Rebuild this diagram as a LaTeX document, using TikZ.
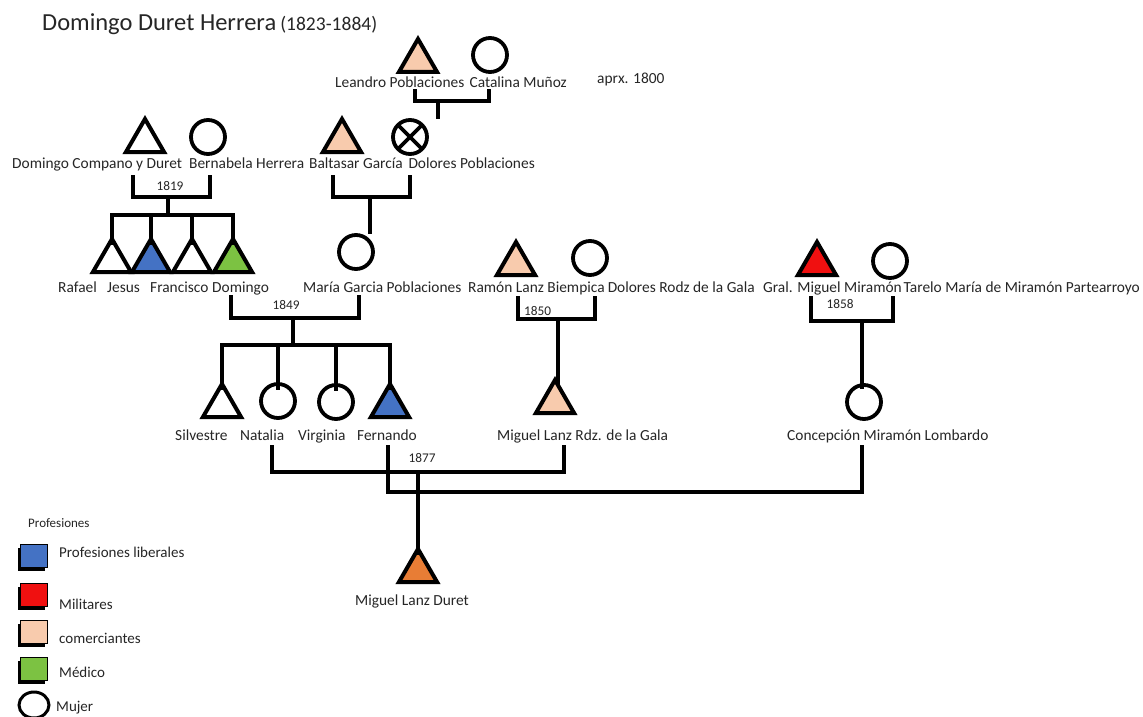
\documentclass[tikz,border=0pt]{standalone}
\usepackage{fontspec}
\setmainfont{Carlito}
\usetikzlibrary{shapes.geometric, shadows}
\definecolor{liberal}{HTML}{4472C4}
\definecolor{militar}{HTML}{F01010}
\definecolor{comercio}{HTML}{F8CBAD}
\definecolor{medico}{HTML}{7CC242}
\definecolor{nieto}{HTML}{E87D35}
\definecolor{ink}{HTML}{262626}
\tikzset{
  man/.style={regular polygon, regular polygon sides=3, draw=black, line width=4pt,
    minimum size=44pt, inner sep=0pt, outer sep=0pt, fill=white},
  woman/.style={circle, draw=black, line width=3.8pt, minimum size=34pt,
    inner sep=0pt, outer sep=0pt, fill=white},
  personlbl/.style={font=\fontsize{15.4}{17}\selectfont, text=ink, inner sep=0pt, anchor=base west},
  yearlbl/.style={font=\fontsize{13.3}{15}\selectfont, text=ink, inner sep=0pt},
  legtext/.style={font=\fontsize{15}{17}\selectfont, text=ink, inner sep=0pt, anchor=base west},
  swatch/.style={draw=black, line width=1pt, minimum width=27pt, minimum height=23pt, inner sep=0pt,
    drop shadow={shadow xshift=-3pt, shadow yshift=-3pt, fill=black, opacity=1}},
  link/.style={line width=4pt, line cap=rect, line join=miter}
}
\begin{document}
\begin{tikzpicture}[x=1pt, y=-1pt]
\useasboundingbox (0,0) rectangle (1143,717);
\fill[white] (0,0) rectangle (1143,717);

% title
\node[anchor=base west, inner sep=0pt, text=ink] (title) at (42,31)
  {\fontsize{24.5}{28}\selectfont Domingo Duret Herrera\,\fontsize{19.5}{22}\selectfont(1823-1884)};

% ---------- generation 1 ----------
\node[man, fill=comercio] (leandro) at (418,61) {};
\node[woman] (catalina) at (490,55) {};
\node[personlbl] (leandroL) at (335,88) {Leandro Poblaciones};
\node[personlbl, anchor=base east] (catalinaL) at (567,88) {Catalina Muñoz};
\node[personlbl] (aprox) at (597,84) {aprx. 1800};

% ---------- generation 2 ----------
\node[man] (dcompano) at (145,141) {};
\node[woman] (bernabela) at (208,137) {};
\node[man, fill=comercio] (baltasar) at (342,141) {};
\node[woman] (doloresp) at (410,137) {};
\draw[line width=3.6pt] (doloresp.north west) -- (doloresp.south east)
                        (doloresp.north east) -- (doloresp.south west);
\node[personlbl] (dcompanoL) at (12,168) {Domingo Compano y Duret};
\node[personlbl] (bernabelaL) at (189,168) {Bernabela Herrera};
\node[personlbl] (baltasarL) at (309,168) {Baltasar García};
\node[personlbl, anchor=base east] (dolorespL) at (535,168) {Dolores Poblaciones};

% ---------- generation 3 ----------
\node[man] (rafael) at (112,261) {};
\node[man, fill=liberal] (jesus) at (151,261) {};
\node[man] (francisco) at (192,261) {};
\node[man, fill=medico] (domingo) at (233,261) {};
\node[woman] (maria) at (356,252) {};
\node[man, fill=comercio] (ramon) at (516,264) {};
\node[woman] (doloresr) at (590,258) {};
\node[man, fill=militar] (miramon) at (817,264) {};
\node[woman] (tarelo) at (890,261) {};
\node[personlbl] (rafaelL) at (58,292) {Rafael};
\node[personlbl] (jesusL) at (107,292) {Jesus};
\node[personlbl] (franciscoL) at (150,292) {Francisco};
\node[personlbl] (domingoL) at (212,292) {Domingo};
\node[personlbl] (mariaL) at (303,292) {María Garcia Poblaciones};
\node[personlbl] (ramonL) at (468,292) {Ramón Lanz Biempica};
\node[personlbl, anchor=base east] (dolorersL) at (755,292) {Dolores Rodz de la Gala};
\node[personlbl] (miramonL) at (763,292) {Gral. Miguel Miramón};
\node[personlbl, anchor=base east] (tareloL) at (1140,292) {Tarelo María de Miramón Partearroyo};

% ---------- generation 4 ----------
\node[man] (silvestre) at (222,406) {};
\node[woman] (natalia) at (278,401) {};
\node[woman] (virginia) at (336,402) {};
\node[man, fill=liberal] (fernando) at (390,406) {};
\node[man, fill=comercio] (mlanz) at (555,402) {};
\node[woman] (concepcion) at (864,402) {};
\node[personlbl] (silvestreL) at (175,440) {Silvestre};
\node[personlbl] (nataliaL) at (240,440) {Natalia};
\node[personlbl] (virginiaL) at (298,440) {Virginia};
\node[personlbl] (fernandoL) at (357,440) {Fernando};
\node[personlbl] (mlanzL) at (497,440) {Miguel Lanz Rdz. de la Gala};
\node[personlbl] (concepcionL) at (787,440) {Concepción Miramón Lombardo};

% ---------- generation 5 ----------
\node[man, fill=nieto] (duret) at (418,571) {};
\node[personlbl] (duretL) at (355,605) {Miguel Lanz Duret};

% ---------- unions and descent ----------
% Leandro + Catalina
\coordinate (u1a) at (415,91);  \coordinate (u1b) at (489,91);
\coordinate (u1c) at (438,101); \coordinate (u1d) at (438,117);
\draw[link] (u1a) |- (u1b |- u1c) -- (u1b);
\draw[link] (u1c) -- (u1d);

% Domingo Compano + Bernabela, 1819
\coordinate (u2a) at (133,177); \coordinate (u2b) at (210,177);
\coordinate (u2c) at (168,197); \coordinate (u2d) at (168,215);
\draw[link] (u2a) |- (u2b |- u2c) -- (u2b);
\draw[link] (u2c) -- (u2d);
\node[yearlbl] (y1819) at (170,186) {1819};
\draw[link] (rafael.north |- u2d) -- (domingo.north |- u2d);
\foreach \c in {rafael, jesus, francisco, domingo}
  \draw[link] (\c.north |- u2d) -- ([yshift=-4pt]\c.north);

% Baltasar + Dolores
\coordinate (u3a) at (333,177); \coordinate (u3b) at (410,177);
\coordinate (u3c) at (370,197);
\draw[link] (u3a) |- (u3b |- u3c) -- (u3b);
\draw[link] (u3c) -- ([yshift=3pt]maria.north -| u3c);

% Domingo + María, 1849
\coordinate (u4a) at (231,297); \coordinate (u4b) at (359,297);
\coordinate (u4c) at (293,318); \coordinate (u4d) at (293,345);
\draw[link] (u4a) |- (u4b |- u4c) -- (u4b);
\draw[link] (u4c) -- (u4d);
\node[yearlbl] (y1849) at (286,305) {1849};
\draw[link] (silvestre.north |- u4d) -- (fernando.north |- u4d);
\foreach \c in {silvestre, natalia, virginia, fernando}
  \draw[link] (\c.north |- u4d) -- ([yshift=-4pt]\c.north);

% Ramón + Dolores, 1850
\coordinate (u5a) at (518,298); \coordinate (u5b) at (595,298);
\coordinate (u5c) at (558,319);
\draw[link] (u5a) |- (u5b |- u5c) -- (u5b);
\draw[link] (u5c) -- ([yshift=-4pt]mlanz.north -| u5c);
\node[yearlbl, anchor=west] (y1850) at (524,311) {1850};

% Miramón + Tarelo, 1858
\coordinate (u6a) at (811,298); \coordinate (u6b) at (893,298);
\coordinate (u6c) at (862,321);
\draw[link] (u6a) |- (u6b |- u6c) -- (u6b);
\draw[link] (u6c) -- ([yshift=-2pt]concepcion.north -| u6c);
\node[yearlbl] (y1858) at (840,304) {1858};

% Natalia + Miguel Lanz Rdz., 1877
\coordinate (u7a) at (272,447); \coordinate (u7b) at (564,447);
\coordinate (u7c) at (418,472);
\draw[link] (u7a) |- (u7b |- u7c) -- (u7b);
\node[yearlbl] (y1877) at (422,458) {1877};

% Fernando + Concepción
\coordinate (u8a) at (388,447); \coordinate (u8b) at (862,447);
\coordinate (u8c) at (600,492);
\draw[link] (u8a) |- (u8b |- u8c) -- (u8b);

% descent to Miguel Lanz Duret
\draw[link] (u7c) -- ([yshift=-4pt]duret.north);

% ---------- legend ----------
\node[legtext, font=\fontsize{13}{15}\selectfont] (legtitle) at (28,527) {Profesiones};
\node[swatch, fill=liberal] (swlib) at (34,556) {};
\node[legtext] (leglib) at (59,557) {Profesiones liberales};
\node[swatch, fill=militar] (swmil) at (34,595) {};
\node[legtext] (legmil) at (59,609) {Militares};
\node[swatch, fill=comercio] (swcom) at (34,632) {};
\node[legtext] (legcom) at (59,643) {comerciantes};
\node[swatch, fill=medico] (swmed) at (34,669) {};
\node[legtext] (legmed) at (59,677) {Médico};
\node[ellipse, draw=black, line width=3pt, minimum width=30pt, minimum height=26pt,
      inner sep=0pt] (swmujer) at (34,705) {};
\node[legtext] (legmujer) at (56,711) {Mujer};
\end{tikzpicture}
\end{document}
